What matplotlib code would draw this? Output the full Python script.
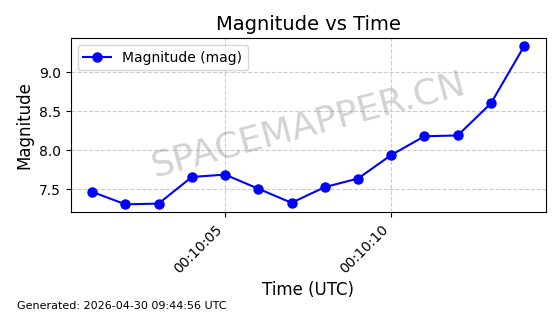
import pandas as pd
import matplotlib
matplotlib.use("Agg")
import matplotlib.pyplot as plt
import matplotlib.dates as mdates

# observation times and magnitudes
times = ["00:10:01", "00:10:02", "00:10:03", "00:10:04", "00:10:05", "00:10:06", "00:10:07",
         "00:10:08", "00:10:09", "00:10:10", "00:10:11", "00:10:12", "00:10:13", "00:10:14"]
magnitudes = [7.47, 7.31, 7.32, 7.66, 7.69, 7.51, 7.33,
              7.53, 7.64, 7.94, 8.18, 8.19, 8.60, 9.33]
generated = "Generated: 2026-04-30 09:44:56 UTC"

t = pd.to_datetime(["2026-04-30 " + s for s in times])

fig = plt.figure(figsize=(5.6, 3.14), dpi=100)
ax = fig.add_subplot(111)
fig.subplots_adjust(left=0.126, right=0.9745, top=0.878, bottom=0.324)

ax.plot(t, magnitudes, "-o", color="blue", markersize=6.5, linewidth=1.5, label="Magnitude (mag)")

ax.xaxis.set_major_locator(mdates.SecondLocator(bysecond=range(0, 60, 5)))
ax.xaxis.set_major_formatter(mdates.DateFormatter("%H:%M:%S"))
plt.setp(ax.get_xticklabels(), rotation=45, ha="right")

ax.grid(True, linestyle="--", color="#cccccc", linewidth=0.8)
ax.set_title("Magnitude vs Time", fontsize=14)
ax.set_xlabel("Time (UTC)", fontsize=12)
ax.set_ylabel("Magnitude", fontsize=12)
ax.legend(loc="upper left")

# watermark
ax.text(0.5, 0.5, "SPACEMAPPER.CN", transform=ax.transAxes, fontsize=26,
        color="gray", alpha=0.35, rotation=15, ha="center", va="center")

fig.text(0.03, 0.016, generated, fontsize=8)

fig.savefig("out.png", dpi=100)
